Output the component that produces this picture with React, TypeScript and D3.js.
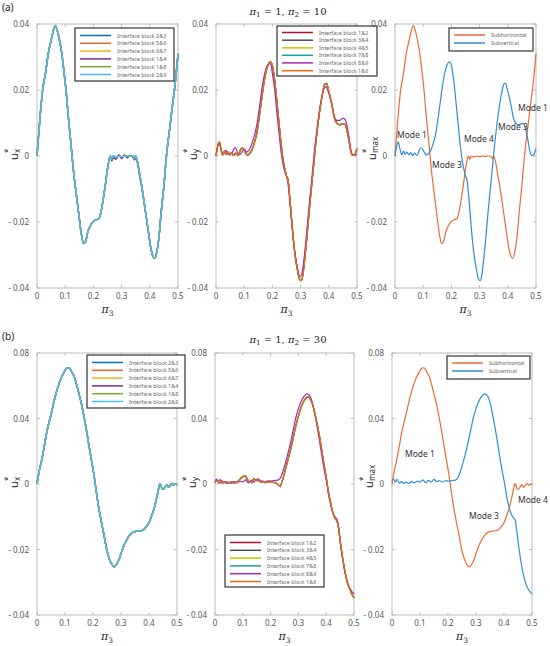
import React from "react";
import * as d3 from "d3";

// ---- data ----
const xTicks = [0, 0.1, 0.2, 0.3, 0.4, 0.5];
const xTickLabels = ["0", "0.1", "0.2", "0.3", "0.4", "0.5"];

const yTicksTop = [-0.04, -0.02, 0, 0.02, 0.04];
const yTickLabelsTop = ["- 0.04", "- 0.02", "0", "0.02", "0.04"];
const yTicksBottom = [-0.04, -0.02, 0, 0.04, 0.08];
const yTickLabelsBottom = ["- 0.04", "- 0.02", "0", "0.04", "0.08"];

// (a) pi2 = 10, horizontal displacement
const uxA: [number, number][] = [
  [0, 0], [0.01, 0.011], [0.02, 0.02], [0.03, 0.025], [0.04, 0.031], [0.05, 0.035], [0.058, 0.038],
  [0.065, 0.0395], [0.072, 0.038], [0.08, 0.035], [0.088, 0.031], [0.095, 0.026], [0.104, 0.019],
  [0.112, 0.011], [0.12, 0.004], [0.13, -0.005], [0.14, -0.012], [0.15, -0.019], [0.158, -0.024],
  [0.165, -0.0265], [0.172, -0.026], [0.18, -0.023], [0.19, -0.021], [0.2, -0.0198], [0.21, -0.0193],
  [0.22, -0.019], [0.228, -0.0165], [0.235, -0.013], [0.242, -0.009], [0.25, -0.004], [0.256, -0.001],
  [0.26, 0], [0.265, -0.001], [0.27, 0], [0.28, -0.0003], [0.29, 0], [0.3, -0.0002], [0.31, 0],
  [0.32, -0.0001], [0.33, 0], [0.34, 0], [0.345, -0.0008], [0.35, 0], [0.357, -0.002], [0.365, -0.006],
  [0.375, -0.011], [0.385, -0.017], [0.395, -0.023], [0.405, -0.0285], [0.412, -0.0305], [0.418, -0.031],
  [0.425, -0.029], [0.432, -0.025], [0.44, -0.0174], [0.45, -0.009], [0.459, 0], [0.47, 0.008],
  [0.48, 0.015], [0.49, 0.022], [0.5, 0.031],
];
const uxAPurple: [number, number][] = [
  [0, 0], [0.01, 0.011], [0.02, 0.02], [0.03, 0.025], [0.04, 0.031], [0.05, 0.035], [0.058, 0.038],
  [0.065, 0.0395], [0.072, 0.038], [0.08, 0.035], [0.088, 0.031], [0.095, 0.026], [0.104, 0.019],
  [0.112, 0.011], [0.12, 0.004], [0.13, -0.005], [0.14, -0.012], [0.15, -0.019], [0.158, -0.024],
  [0.165, -0.0265], [0.172, -0.026], [0.18, -0.023], [0.19, -0.021], [0.2, -0.0198], [0.21, -0.0193],
  [0.22, -0.019], [0.228, -0.0165], [0.235, -0.013], [0.242, -0.009], [0.25, -0.004], [0.256, -0.001],
  [0.26, 0], [0.265, -0.0015], [0.272, -0.0005], [0.28, -0.001], [0.29, 0.0004], [0.3, -0.0008],
  [0.31, 0.0003], [0.32, -0.0006], [0.33, 0.0002], [0.34, -0.0004], [0.346, -0.0012], [0.35, -0.0004],
  [0.357, -0.0025], [0.365, -0.0065], [0.375, -0.0115], [0.385, -0.0172], [0.395, -0.023],
  [0.405, -0.0285], [0.412, -0.0305], [0.418, -0.031], [0.425, -0.029], [0.432, -0.025], [0.44, -0.0174],
  [0.45, -0.009], [0.459, 0], [0.47, 0.008], [0.48, 0.015], [0.49, 0.022], [0.5, 0.031],
];

// (a) vertical displacement
const uyA: [number, number][] = [
  [0, 0], [0.006, 0.003], [0.012, 0.0042], [0.018, 0.002], [0.024, 0.0003], [0.03, 0.0015], [0.036, 0.0005],
  [0.042, 0.0012], [0.05, 0.0003], [0.056, 0.001], [0.062, 0.0002], [0.07, 0.0008], [0.078, 0.0001],
  [0.085, 0.0015], [0.092, 0.0025], [0.1, 0.0018], [0.106, 0.0008], [0.112, 0.0003], [0.12, 0.0008],
  [0.128, 0.002], [0.136, 0.004], [0.145, 0.007], [0.152, 0.011], [0.16, 0.016], [0.168, 0.021],
  [0.176, 0.025], [0.184, 0.0275], [0.192, 0.0285], [0.198, 0.028], [0.205, 0.025], [0.212, 0.02],
  [0.22, 0.013], [0.228, 0.006], [0.236, 0], [0.244, -0.004], [0.25, -0.006], [0.256, -0.0075],
  [0.26, -0.011], [0.266, -0.017], [0.274, -0.025], [0.282, -0.031], [0.29, -0.035], [0.296, -0.0373],
  [0.302, -0.0378], [0.308, -0.036], [0.315, -0.031], [0.322, -0.025], [0.33, -0.017], [0.338, -0.01],
  [0.346, -0.003], [0.354, 0.004], [0.362, 0.01], [0.37, 0.015], [0.378, 0.019], [0.386, 0.0218],
  [0.392, 0.022], [0.4, 0.0195], [0.41, 0.016], [0.42, 0.0115], [0.43, 0.0098], [0.44, 0.0095],
  [0.45, 0.0098], [0.458, 0.0095], [0.465, 0.0075], [0.472, 0.0045], [0.478, 0.0015], [0.484, 0.0002],
  [0.49, 0.0002], [0.495, 0.001], [0.5, 0.0022],
];
const uyAPurple: [number, number][] = [
  [0, 0], [0.006, 0.003], [0.012, 0.004], [0.018, 0.002], [0.024, 0.0005], [0.03, 0.001], [0.036, 0.0018],
  [0.042, 0.0005], [0.05, 0.0008], [0.058, 0.0012], [0.064, 0.0022], [0.07, 0.0025], [0.076, 0.001],
  [0.084, 0.0004], [0.092, 0.0012], [0.1, 0.0022], [0.108, 0.0012], [0.116, 0.0016], [0.124, 0.003],
  [0.132, 0.005], [0.14, 0.0075], [0.148, 0.011], [0.156, 0.016], [0.164, 0.021], [0.172, 0.0248],
  [0.18, 0.0272], [0.188, 0.028], [0.194, 0.0278], [0.2, 0.025], [0.208, 0.02], [0.216, 0.013],
  [0.224, 0.0065], [0.232, 0.0005], [0.24, -0.0035], [0.248, -0.0058], [0.254, -0.0075], [0.258, -0.0105],
  [0.264, -0.016], [0.272, -0.0235], [0.28, -0.0295], [0.288, -0.0335], [0.294, -0.036], [0.3, -0.0365],
  [0.306, -0.035], [0.313, -0.0305], [0.32, -0.0245], [0.328, -0.017], [0.336, -0.01], [0.344, -0.003],
  [0.352, 0.004], [0.36, 0.0095], [0.368, 0.0145], [0.376, 0.0182], [0.384, 0.0205], [0.39, 0.021],
  [0.398, 0.0195], [0.408, 0.0165], [0.418, 0.0125], [0.428, 0.0108], [0.44, 0.0108], [0.45, 0.0115],
  [0.458, 0.011], [0.465, 0.009], [0.472, 0.0055], [0.478, 0.002], [0.484, 0.0004], [0.49, 0.0003],
  [0.495, 0.0004], [0.5, 0.0005],
];

// (b) pi2 = 30, horizontal displacement
const uxB: [number, number][] = [
  [0, 0], [0.008, 0.008], [0.016, 0.014], [0.025, 0.022], [0.033, 0.03], [0.042, 0.037], [0.051, 0.043],
  [0.06, 0.05], [0.069, 0.056], [0.078, 0.061], [0.087, 0.065], [0.096, 0.068], [0.105, 0.0705],
  [0.112, 0.071], [0.118, 0.0705], [0.125, 0.068], [0.132, 0.066], [0.141, 0.061], [0.15, 0.055],
  [0.159, 0.0487], [0.168, 0.041], [0.177, 0.0325], [0.186, 0.023], [0.195, 0.014], [0.204, 0.005],
  [0.213, -0.003], [0.222, -0.008], [0.231, -0.012], [0.24, -0.016], [0.249, -0.02], [0.258, -0.0228],
  [0.267, -0.0245], [0.276, -0.0253], [0.285, -0.0245], [0.294, -0.0228], [0.303, -0.0205],
  [0.312, -0.0185], [0.322, -0.0168], [0.332, -0.0155], [0.344, -0.0147], [0.356, -0.0144],
  [0.368, -0.0143], [0.38, -0.014], [0.39, -0.013], [0.4, -0.0118], [0.41, -0.0095], [0.42, -0.007],
  [0.428, -0.004], [0.435, -0.0012], [0.439, 0.0003], [0.443, -0.0005], [0.447, -0.0015], [0.452, -0.0016],
  [0.458, -0.0008], [0.464, -0.0002], [0.47, -0.001], [0.476, -0.0004], [0.482, 0.0004], [0.488, -0.0004],
  [0.494, 0], [0.5, -0.0003],
];

// (b) vertical displacement
const uyB: [number, number][] = [
  [0, 0.001], [0.008, 0.002], [0.016, 0.0005], [0.024, 0.0018], [0.032, 0.0008], [0.04, 0.0015],
  [0.05, 0.0005], [0.06, 0.0015], [0.07, 0.0006], [0.08, 0.0012], [0.09, 0.003], [0.1, 0.0045],
  [0.108, 0.005], [0.116, 0.003], [0.124, 0.0012], [0.132, 0.0008], [0.14, 0.0035], [0.148, 0.002],
  [0.156, 0.003], [0.164, 0.0012], [0.172, 0.0015], [0.18, 0.0008], [0.19, 0.0015], [0.2, 0.0012],
  [0.21, 0.001], [0.22, 0.0005], [0.228, -0.0002], [0.234, -0.0008], [0.24, 0.001], [0.246, 0.004],
  [0.252, 0.008], [0.258, 0.012], [0.266, 0.017], [0.276, 0.024], [0.286, 0.032], [0.296, 0.039],
  [0.306, 0.045], [0.316, 0.0495], [0.326, 0.0522], [0.336, 0.0532], [0.344, 0.0515], [0.352, 0.048],
  [0.36, 0.0425], [0.368, 0.036], [0.376, 0.029], [0.384, 0.0205], [0.392, 0.012], [0.4, 0.004],
  [0.408, -0.0025], [0.416, -0.0058], [0.424, -0.0088], [0.432, -0.0105], [0.438, -0.0112],
  [0.444, -0.013], [0.45, -0.0172], [0.458, -0.022], [0.466, -0.026], [0.474, -0.0294], [0.482, -0.0315],
  [0.49, -0.0332], [0.5, -0.0348],
];
const uyBPurple: [number, number][] = [
  [0, 0.002], [0.006, 0.003], [0.012, 0.0012], [0.018, 0.0028], [0.026, 0.0004], [0.034, 0.0015],
  [0.042, 0.0002], [0.05, 0.0012], [0.06, 0.0004], [0.07, 0.0015], [0.08, 0.0008], [0.09, 0.0018],
  [0.1, 0.0012], [0.11, 0.0025], [0.12, 0.0008], [0.13, 0.0022], [0.14, 0.0012], [0.15, 0.0028],
  [0.16, 0.0015], [0.17, 0.002], [0.18, 0.0012], [0.19, 0.002], [0.2, 0.0018], [0.21, 0.002],
  [0.22, 0.0022], [0.228, 0.0025], [0.236, 0.004], [0.244, 0.0075], [0.252, 0.012], [0.26, 0.017],
  [0.27, 0.024], [0.28, 0.032], [0.29, 0.04], [0.3, 0.046], [0.31, 0.0505], [0.32, 0.0535], [0.33, 0.055],
  [0.338, 0.0545], [0.346, 0.052], [0.354, 0.047], [0.362, 0.04], [0.37, 0.0325], [0.378, 0.024],
  [0.386, 0.0155], [0.394, 0.0075], [0.402, 0.0005], [0.41, -0.004], [0.418, -0.007], [0.426, -0.0092],
  [0.434, -0.0103], [0.44, -0.011], [0.446, -0.0145], [0.454, -0.02], [0.462, -0.0245], [0.47, -0.028],
  [0.478, -0.0305], [0.486, -0.032], [0.494, -0.033], [0.5, -0.0335],
];

const uxLabels = ["Interface block 2&3", "Interface block 5&6", "Interface block 6&7", "Interface block 1&4", "Interface block 1&8", "Interface block 2&9"];
const uxColors = ["#0072bd", "#e5682d", "#edb120", "#7e2f8e", "#77ac30", "#4dbeee"];
const uyLabels = ["Interface block 1&2", "Interface block 3&4", "Interface block 4&5", "Interface block 7&8", "Interface block 8&9", "Interface block 1&6"];
const uyColors = ["#b0102e", "#4d4d4d", "#c8c400", "#17a2a2", "#a42bb5", "#ee6a12"];
const modeLabels = ["Subhorizontal", "Subvertical"];
const modeColors = ["#ec6b35", "#2e8fd8"];

const FONT = "'Noto Sans', sans-serif";
const SERIF = "'DejaVu Serif', serif";

type Series = { label: string; color: string; data: [number, number][] };

const Legend = ({ lx, ly, lw, lh, series, rows, lineLen }: any) => (
  <g>
    <rect x={lx} y={ly} width={lw} height={lh} fill="#fff" stroke="#333" strokeWidth={1.2} />
    {series.map((s: Series, i: number) => (
      <g key={i}>
        <line x1={lx + 5} x2={lx + 5 + lineLen} y1={ly + rows[i]} y2={ly + rows[i]} stroke={s.color} strokeWidth={1.5} />
        <text x={lx + 11 + lineLen} y={ly + rows[i] + 2} fontSize={5.4} fill="#666" fontFamily={FONT}>{s.label}</text>
      </g>
    ))}
  </g>
);

const Panel = ({ x0, x1, y0, y1, yDomain, yTicks, yTickLabels, series, legend, yLabelSub, notes, width }: any) => {
  const x = d3.scaleLinear().domain([0, 0.5]).range([x0, x1]);
  // bottom row uses a two-piece axis: -0.04..0 takes the lower half, 0..0.08 the upper half
  const y = d3.scaleLinear().domain(yDomain).range(yDomain.length === 3 ? [y1, (y0 + y1) / 2, y0] : [y1, y0]);
  const line = d3.line<[number, number]>().x(d => x(d[0])).y(d => y(d[1])).curve(d3.curveMonotoneX);
  const midY = y(0);
  const cx = (x0 + x1) / 2;
  return (
    <g>
      <rect x={x0} y={y0} width={x1 - x0} height={y1 - y0} fill="#fff" stroke="#bdbdbd" strokeWidth={1} />
      {xTicks.map((t, i) => (
        <g key={"x" + i}>
          <line x1={x(t)} x2={x(t)} y1={y1} y2={y1 - 3} stroke="#bdbdbd" />
          <line x1={x(t)} x2={x(t)} y1={y0} y2={y0 + 3} stroke="#bdbdbd" />
          <text x={x(t)} y={y1 + 11} fontSize={8} fill="#555" textAnchor="middle" fontFamily={FONT}>{xTickLabels[i]}</text>
        </g>
      ))}
      {yTicks.map((t: number, i: number) => (
        <g key={"y" + i}>
          <line x1={x0} x2={x0 + 3} y1={y(t)} y2={y(t)} stroke="#bdbdbd" />
          <line x1={x1} x2={x1 - 3} y1={y(t)} y2={y(t)} stroke="#bdbdbd" />
          <text x={x0 - 8} y={y(t) + 3} fontSize={8} fill="#555" textAnchor="end" fontFamily={FONT}>{yTickLabels[i]}</text>
        </g>
      ))}
      {series.map((s: Series, i: number) => (
        <path key={i} d={line(s.data) || ""} fill="none" stroke={s.color} strokeWidth={width} strokeLinejoin="round" />
      ))}
      {notes && notes.map((n: any, i: number) => (
        <text key={"n" + i} x={n.x} y={n.y} fontSize={8.5} fill="#333" fontFamily={FONT}>{n.t}</text>
      ))}
      <g transform={`translate(${x0 - 19},${midY + 4}) rotate(-90)`} fontFamily={FONT} fill="#222">
        <text x={0} y={0} fontSize={11}>u</text>
        <text x={7} y={-7} fontSize={8}>*</text>
        <text x={7} y={2} fontSize={8}>{yLabelSub}</text>
      </g>
      <text x={cx} y={y1 + 25} fontSize={11} textAnchor="middle" fontFamily={SERIF} fill="#222">
        <tspan fontStyle="italic">π</tspan>
        <tspan fontSize={7.5} dy={3}>3</tspan>
      </text>
      {legend && <Legend {...legend} series={series} />}
    </g>
  );
};

const Title = ({ cx, y, sub }: any) => (
  <text x={cx} y={y} textAnchor="middle" fontFamily={SERIF} fontSize={10} fill="#222">
    <tspan fontStyle="italic">π</tspan>
    <tspan fontSize={7} dy={2}>1</tspan>
    <tspan dy={-2}> = 1, </tspan>
    <tspan fontStyle="italic">π</tspan>
    <tspan fontSize={7} dy={2}>2</tspan>
    <tspan dy={-2}> = {sub}</tspan>
  </text>
);

export default function App() {
  const uxTopSeries: Series[] = uxLabels.map((l, i) => ({ label: l, color: uxColors[i], data: i === 3 ? uxAPurple : uxA }));
  const uyTopSeries: Series[] = uyLabels.map((l, i) => ({ label: l, color: uyColors[i], data: i === 4 ? uyAPurple : uyA }));
  const modeTop: Series[] = [
    { label: modeLabels[0], color: modeColors[0], data: uxA },
    { label: modeLabels[1], color: modeColors[1], data: uyA },
  ];
  const uxBotSeries: Series[] = uxLabels.map((l, i) => ({ label: l, color: uxColors[i], data: uxB }));
  const uyBotSeries: Series[] = uyLabels.map((l, i) => ({ label: l, color: uyColors[i], data: i === 4 ? uyBPurple : uyB }));
  const modeBot: Series[] = [
    { label: modeLabels[0], color: modeColors[0], data: uxB },
    { label: modeLabels[1], color: modeColors[1], data: uyBPurple },
  ];
  const rows6 = [7.5, 15.3, 23.1, 30.9, 38.7, 46.5];
  const rowsMid = [6.5, 14.2, 21.9, 29.3, 36.9, 44.7];
  const rows2 = [7, 15];
  const topY: [number, number] = [24, 288];
  const botY: [number, number] = [353, 615];
  return (
    <div style={{ position: "absolute", left: 0, top: 0 }}>
      <svg width={550} height={646} style={{ display: "block", background: "#fff" }}>
        <text x={2} y={11} fontSize={10} fontFamily={FONT} fill="#222">(a)</text>
        <Title cx={288} y={15} sub="10" />
        <Panel x0={37} x1={178} y0={topY[0]} y1={topY[1]} yDomain={[-0.04, 0.04]} yTicks={yTicksTop} yTickLabels={yTickLabelsTop}
          series={uxTopSeries} yLabelSub="x" width={1.4}
          legend={{ lx: 75, ly: 28, lw: 99, lh: 53, rows: rows6, lineLen: 31 }} />
        <Panel x0={216} x1={357} y0={topY[0]} y1={topY[1]} yDomain={[-0.04, 0.04]} yTicks={yTicksTop} yTickLabels={yTickLabelsTop}
          series={uyTopSeries} yLabelSub="y" width={1.2}
          legend={{ lx: 277, ly: 26, lw: 100, lh: 50, rows: rowsMid, lineLen: 31 }} />
        <Panel x0={395} x1={536} y0={topY[0]} y1={topY[1]} yDomain={[-0.04, 0.04]} yTicks={yTicksTop} yTickLabels={yTickLabelsTop}
          series={modeTop} yLabelSub="max" width={1.2}
          legend={{ lx: 449, ly: 28, lw: 84, lh: 23, rows: rows2, lineLen: 31 }}
          notes={[
            { x: 397, y: 138, t: "Mode 1" }, { x: 432, y: 168, t: "Mode 3" }, { x: 464, y: 142, t: "Mode 4" },
            { x: 498, y: 130, t: "Mode 3" }, { x: 518, y: 111, t: "Mode 1" },
          ]} />

        <text x={2} y={340} fontSize={10} fontFamily={FONT} fill="#222">(b)</text>
        <Title cx={288} y={343} sub="30" />
        <Panel x0={37} x1={177} y0={botY[0]} y1={botY[1]} yDomain={[-0.04, 0, 0.08]} yTicks={yTicksBottom} yTickLabels={yTickLabelsBottom}
          series={uxBotSeries} yLabelSub="x" width={1.4}
          legend={{ lx: 87, ly: 355, lw: 98, lh: 53, rows: rows6, lineLen: 31 }} />
        <Panel x0={215} x1={354} y0={botY[0]} y1={botY[1]} yDomain={[-0.04, 0, 0.08]} yTicks={yTicksBottom} yTickLabels={yTickLabelsBottom}
          series={uyBotSeries} yLabelSub="y" width={1.2}
          legend={{ lx: 225, ly: 535, lw: 99, lh: 52, rows: rows6, lineLen: 31 }} />
        <Panel x0={392} x1={532} y0={botY[0]} y1={botY[1]} yDomain={[-0.04, 0, 0.08]} yTicks={yTicksBottom} yTickLabels={yTickLabelsBottom}
          series={modeBot} yLabelSub="max" width={1.2}
          legend={{ lx: 447, ly: 356, lw: 83, lh: 23, rows: rows2, lineLen: 31 }}
          notes={[
            { x: 405, y: 457, t: "Mode 1" }, { x: 469, y: 519, t: "Mode 3" }, { x: 518, y: 503, t: "Mode 4" },
          ]} />
      </svg>
    </div>
  );
}
